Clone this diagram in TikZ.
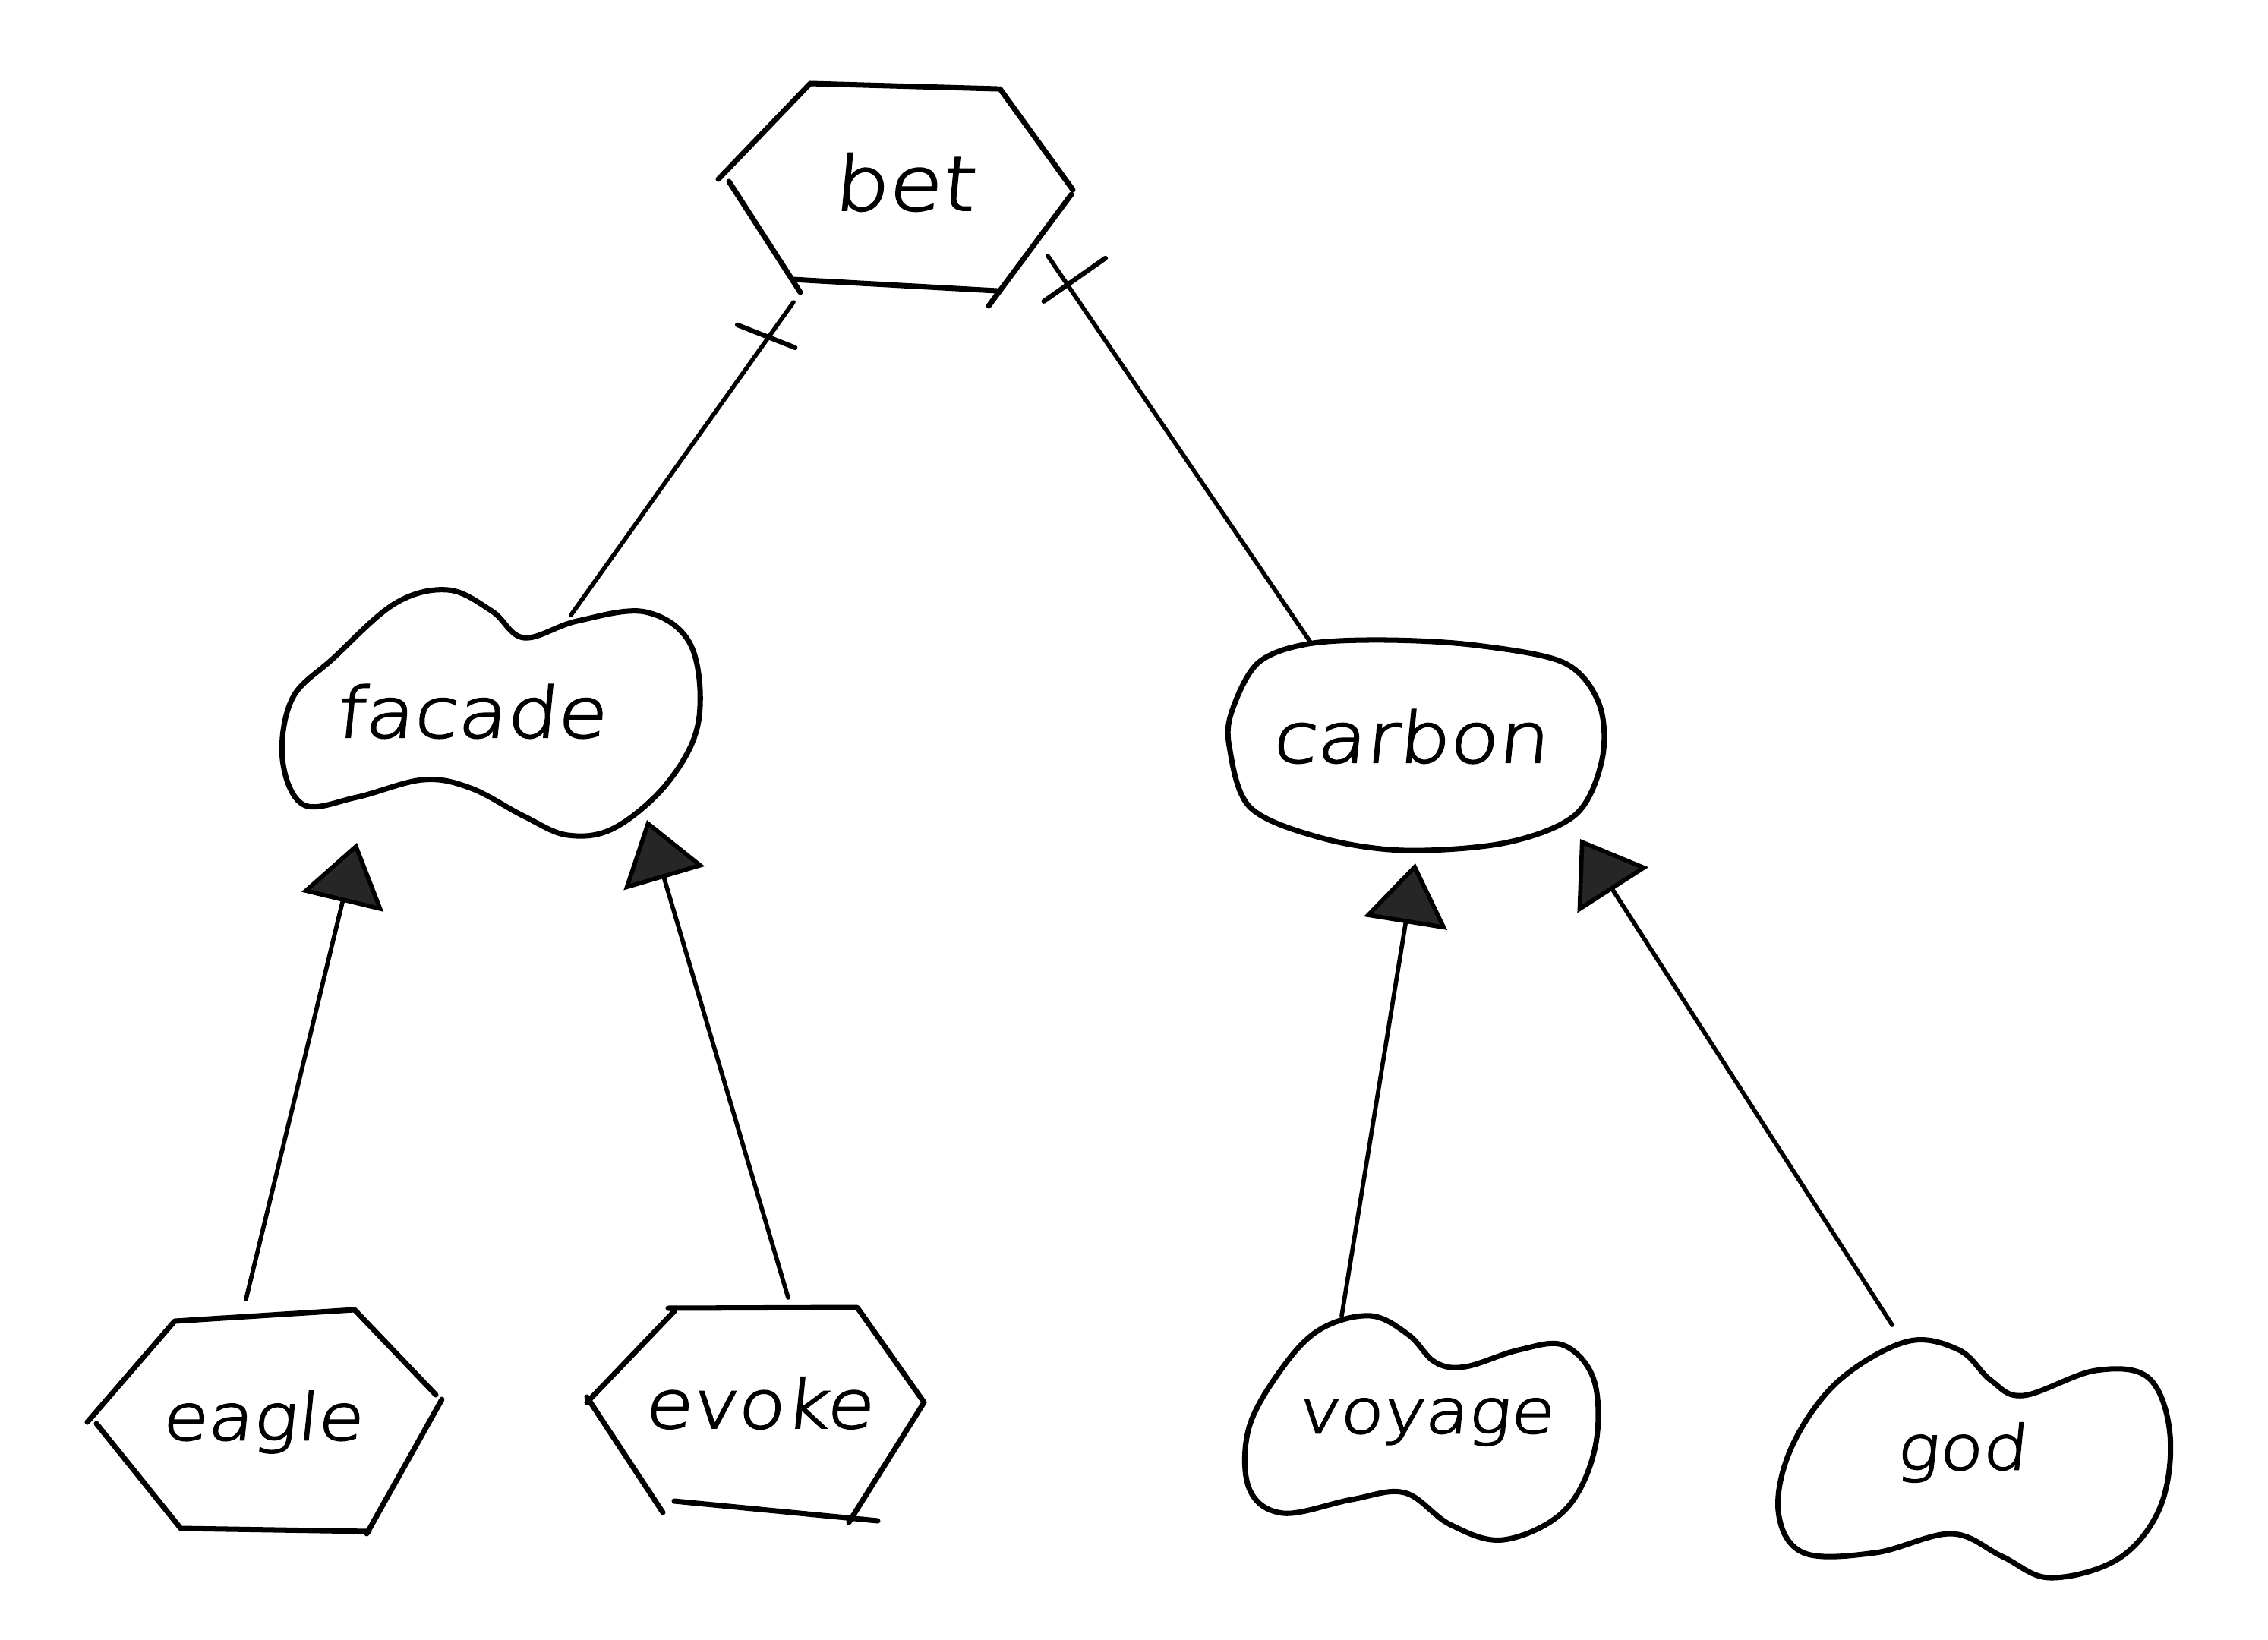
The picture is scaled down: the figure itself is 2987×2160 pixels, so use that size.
\documentclass[tikz,border=0pt]{standalone}
\usepackage{fontspec}
\usetikzlibrary{arrows.meta,decorations.markings}
\newfontfamily\hand{DejaVu Sans ExtraLight}[FakeSlant=0.1,FakeStretch=1.15,FakeBold=2.5]

\tikzset{
  word/.style={font=\hand\fontsize{#1}{#1}\selectfont, inner sep=0pt},
  outline/.style={line width=2pt, line join=round, line cap=round},
  link/.style={line width=1.6pt, line cap=round},
  inherit/.style={link, -{Triangle[length=8mm,width=11mm,fill=black!85]}},
  crossat/.style args={#1:#2--#3}{postaction=decorate,
    decoration={markings, mark=at position #1 with {\draw[line width=1.8pt, line cap=round] #2 -- #3;}}}
}

\begin{document}
\begin{tikzpicture}[x=0.1mm, y=-0.1mm]
  \useasboundingbox (0,0) rectangle (2987,2160);

  % labels
  \node[word=28pt] (bet)    at (1190,240)  {bet};
  \node[word=26pt] (facade) at (620,937)   {facade};
  \node[word=26pt] (carbon) at (1857,970)  {carbon};
  \node[word=24pt] (eagle)  at (345,1873)  {eagle};
  \node[word=25pt] (evoke)  at (999,1848)  {evoke};
  \node[word=23pt] (voyage) at (1877,1873) {voyage};
  \node[word=23pt] (god)    at (2583,1913) {god};

  % hexagons, drawn edge by edge
  \draw[outline] (1067,110) -- (1313,117) (1317,117) -- (1413,250)
                 (1411,256) -- (1302,403) (1043,368) -- (1313,383)
                 (960,239) -- (1054,385) (946,236) -- (1067,110);
  \draw[outline] (230,1740) -- (467,1725) -- (574,1837) (582,1843) -- (483,2020)
                 (238,2013) -- (486,2017) (127,1875) -- (238,2013)
                 (115,1873) -- (230,1740);
  \draw[outline] (880,1723) -- (1129,1722) -- (1217,1847) -- (1118,2005)
                 (888,1977) -- (1156,2003) (773,1840) -- (873,1992)
                 (888,1727) -- (773,1847);

  % blobs
  \draw[outline] plot[smooth cycle, tension=0.6] coordinates {
    (439,867) (520,795) (590,777) (648,805) (690,840) (760,818) (850,806)
    (910,850) (920,950) (880,1030) (810,1090) (748,1100)
    (690,1075) (620,1038) (557,1027) (470,1050) (400,1060) (372,1000)
    (385,920)};
  \draw[outline] plot[smooth cycle, tension=0.55] coordinates {
    (1723,848) (1826,843) (1945,850) (2060,873) (2106,927) (2110,1000)
    (2075,1073) (1983,1110) (1849,1120) (1738,1103) (1646,1063) (1619,983)
    (1623,935) (1657,873)};
  \draw[outline] plot[smooth cycle, tension=0.6] coordinates {
    (1740,1750) (1805,1733) (1855,1758) (1890,1794) (1930,1800) (2000,1778)
    (2060,1772) (2100,1820) (2100,1910) (2060,1990) (1980,2028) (1910,2008)
    (1850,1966) (1780,1975) (1690,1993) (1645,1960) (1645,1880) (1690,1800)};
  \draw[outline] plot[smooth cycle, tension=0.6] coordinates {
    (2511,1767) (2580,1778) (2622,1818) (2665,1838) (2760,1805) (2830,1815)
    (2858,1890) (2845,1985) (2790,2053) (2700,2078) (2637,2050) (2570,2020)
    (2470,2045) (2375,2045) (2342,1990) (2360,1905) (2420,1820)};

  % connectors
  \draw[link, crossat={0.112:(3.0pt,-12.2pt)--(-2.6pt,10.4pt)}]
    ([shift={(-145,158)}]bet.center) -- ([shift={(132,-127)}]facade.center);
  \draw[link, crossat={0.075:(-0.3pt,17.4pt)--(0.1pt,-10.8pt)}]
    ([shift={(190,97)}]bet.center) -- ([shift={(-131,-124)}]carbon.center);

  \draw[inherit] ([shift={(-21,-162)}]eagle.center) -- ([shift={(-150,173)}]facade.center);
  \draw[inherit] ([shift={(39,-139)}]evoke.center) -- ([shift={(232,143)}]facade.center);
  \draw[inherit] ([shift={(-110,-140)}]voyage.center) -- ([shift={(7,167)}]carbon.center);
  \draw[inherit] ([shift={(-91,-168)}]god.center) -- ([shift={(224,135)}]carbon.center);
\end{tikzpicture}
\end{document}
